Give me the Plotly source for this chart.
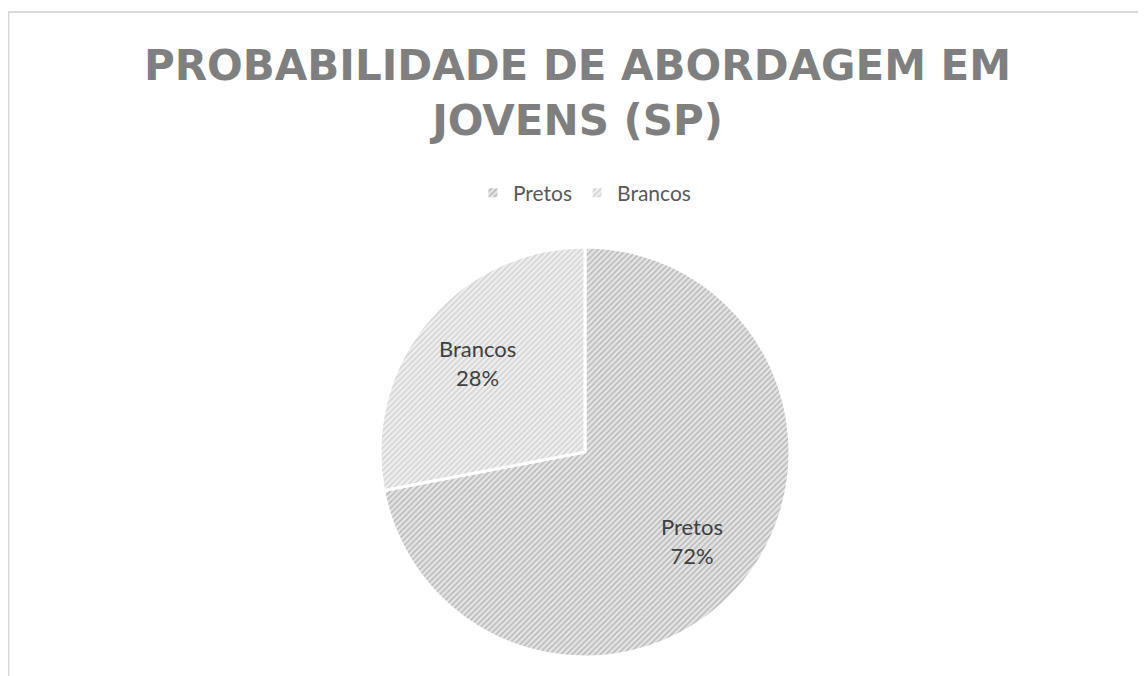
import math
import plotly.graph_objects as go

labels = ["Pretos", "Brancos"]
values = [72, 28]
bg_colors = ["#e6e6e6", "#f0f0f0"]
fg_colors = ["#8f8f8f", "#b8b8b8"]

W, H = 1146, 676
# pie placement (figure pixels)
px0, px1, py0, py1 = 372, 782, 239, 649

fig = go.Figure(go.Pie(
    labels=labels,
    values=values,
    sort=False,
    direction="clockwise",
    rotation=0,
    textinfo="none",
    marker=dict(
        colors=bg_colors,
        line=dict(color="white", width=3),
        pattern=dict(shape="/", fgcolor=fg_colors, bgcolor=bg_colors, size=4, solidity=0.45, fillmode="overlay"),
    ),
    domain=dict(x=[px0/W, px1/W], y=[1-py1/H, 1-py0/H]),
    hoverinfo="label+percent",
))

# data labels placed along each slice's mid angle
cx = (px0 + px1) / 2
cy = (py0 + py1) / 2
r = (px1 - px0) / 2
total = sum(values)
cum = 0
annotations = []
for lab, v in zip(labels, values):
    theta = 2 * math.pi * (cum + v / 2) / total
    cum += v
    x = cx + math.sin(theta) * 0.68 * r
    y = cy - math.cos(theta) * 0.68 * r
    annotations.append(dict(
        x=x / W, y=1 - y / H, xref="paper", yref="paper",
        text=f"{lab}<br>{round(100 * v / total)}%", showarrow=False,
        font=dict(family="Lato, Noto Sans, sans-serif", size=22, color="#404040"),
        xanchor="center", yanchor="middle",
    ))

fig.update_layout(
    width=W, height=H, autosize=False,
    margin=dict(l=0, r=0, t=0, b=0),
    paper_bgcolor="white", plot_bgcolor="white",
    title=dict(
        text="PROBABILIDADE DE ABORDAGEM EM<br>JOVENS (SP)",
        x=0.497, xanchor="center", y=0.893, yanchor="top",
        font=dict(family="DejaVu Sans", size=42, color="#7f7f7f", weight="bold"),
    ),
    showlegend=True,
    legend=dict(
        orientation="h", x=0.503, xanchor="center", y=1-185/H, yanchor="middle",
        font=dict(family="Lato, Noto Sans, sans-serif", size=21, color="#595959"),
        itemwidth=30,
    ),
    annotations=annotations,
    shapes=[dict(type="rect", xref="paper", yref="paper",
                 x0=0.5/W, x1=1.2, y0=-0.2, y1=1-4/H,
                 line=dict(color="#d9d9d9", width=2), fillcolor="rgba(0,0,0,0)")],
)

fig.write_html("out.html")
